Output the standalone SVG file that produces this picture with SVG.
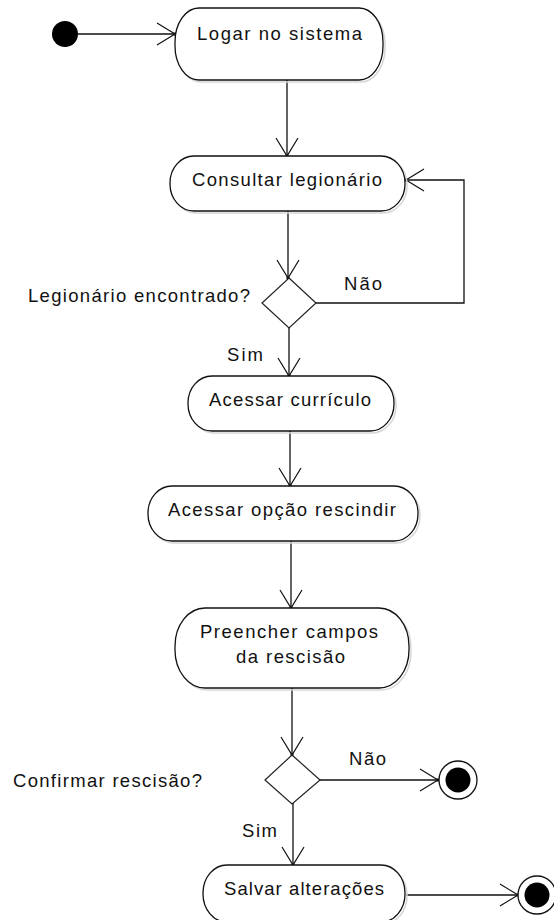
<svg xmlns="http://www.w3.org/2000/svg" width="554" height="920" viewBox="0 0 554 920">
  <style>
    text { font-family: "Liberation Sans", Arial, sans-serif; font-size: 18.5px; fill: #111; }
    .act { fill: #fff; stroke: #111; stroke-width: 1.3; }
    .shadow { fill: none; stroke: #d6d6d6; stroke-width: 1.5; }
    .dec { fill: #fff; stroke: #222; stroke-width: 1.2; }
    .edge { fill: none; stroke: #111; stroke-width: 1.3; marker-end: url(#open); }
  </style>
  <defs>
    <marker id="open" viewBox="-20 -13 22 26" refX="0" refY="0" markerWidth="22" markerHeight="26" markerUnits="userSpaceOnUse" orient="auto">
      <path d="M-18,-11 L0,0 L-18,11" fill="none" stroke="#111" stroke-width="1.2"/>
      <rect x="-1.5" y="-1.5" width="3" height="3" fill="#111"/>
    </marker>
  </defs>

  <!-- connectors -->
  <g id="edges">
    <path class="edge" d="M78,34 H175"/>
    <path class="edge" d="M287,80 V156"/>
    <path class="edge" d="M288,211 V278"/>
    <path class="edge" d="M316,303 H464 V180 H406"/>
    <path class="edge" d="M289,328 V376"/>
    <path class="edge" d="M290,431 V486"/>
    <path class="edge" d="M291,541 V608"/>
    <path class="edge" d="M292,688 V755"/>
    <path class="edge" d="M320,780 H438"/>
    <path class="edge" d="M293,803 V865"/>
    <path class="edge" d="M406,895 H518"/>
  </g>

  <!-- initial node -->
  <g id="start">
    <circle cx="65" cy="34" r="13" fill="#000"/>
  </g>

  <g id="logar">
    <rect class="shadow" x="177" y="10" width="208" height="72" rx="24" ry="34"/>
    <rect class="act" x="175" y="8" width="208" height="72" rx="24" ry="34"/>
    <text x="197" y="40" textLength="165" lengthAdjust="spacing">Logar no sistema</text>
  </g>

  <g id="consultar">
    <rect class="shadow" x="172" y="158" width="235" height="55" rx="24" ry="27"/>
    <rect class="act" x="170" y="156" width="235" height="55" rx="24" ry="27"/>
    <text x="192" y="186" textLength="190" lengthAdjust="spacing">Consultar legionário</text>
  </g>

  <g id="decisao-encontrado">
    <path class="dec" d="M289,278 L316,303 L289,328 L262,303 Z"/>
    <text x="28" y="302" textLength="222" lengthAdjust="spacing">Legionário encontrado?</text>
    <text x="344" y="290" textLength="38" lengthAdjust="spacing">Não</text>
    <text x="227" y="361" textLength="36" lengthAdjust="spacing">Sim</text>
  </g>

  <g id="curriculo">
    <rect class="shadow" x="190" y="378" width="206" height="55" rx="24" ry="27"/>
    <rect class="act" x="188" y="376" width="206" height="55" rx="24" ry="27"/>
    <text x="209" y="406" textLength="162" lengthAdjust="spacing">Acessar currículo</text>
  </g>

  <g id="rescindir">
    <rect class="shadow" x="150" y="488" width="270" height="55" rx="24" ry="27"/>
    <rect class="act" x="148" y="486" width="270" height="55" rx="24" ry="27"/>
    <text x="168" y="516" textLength="228" lengthAdjust="spacing">Acessar opção rescindir</text>
  </g>

  <g id="preencher">
    <rect class="shadow" x="177" y="610" width="234" height="80" rx="30" ry="38"/>
    <rect class="act" x="175" y="608" width="234" height="80" rx="30" ry="38"/>
    <text x="200" y="638" textLength="178" lengthAdjust="spacing">Preencher campos</text>
    <text x="236" y="663" textLength="109" lengthAdjust="spacing">da rescisão</text>
  </g>

  <g id="decisao-confirmar">
    <path class="dec" d="M292,755 L320,780 L292,804 L265,780 Z"/>
    <text x="13" y="787" textLength="189" lengthAdjust="spacing">Confirmar rescisão?</text>
    <text x="349" y="765" textLength="37" lengthAdjust="spacing">Não</text>
    <text x="242" y="837" textLength="35" lengthAdjust="spacing">Sim</text>
  </g>

  <g id="final-1">
    <circle cx="458" cy="780" r="19" fill="#fff" stroke="#111" stroke-width="1.3"/>
    <circle cx="458" cy="780" r="12.5" fill="#000"/>
  </g>

  <g id="salvar">
    <rect class="shadow" x="205" y="867" width="202" height="57" rx="24" ry="28"/>
    <rect class="act" x="203" y="865" width="202" height="57" rx="24" ry="28"/>
    <text x="224" y="895" textLength="160" lengthAdjust="spacing">Salvar alterações</text>
  </g>

  <g id="final-2">
    <circle cx="537" cy="895" r="19" fill="#fff" stroke="#111" stroke-width="1.3"/>
    <circle cx="537" cy="895" r="12.5" fill="#000"/>
  </g>
</svg>
